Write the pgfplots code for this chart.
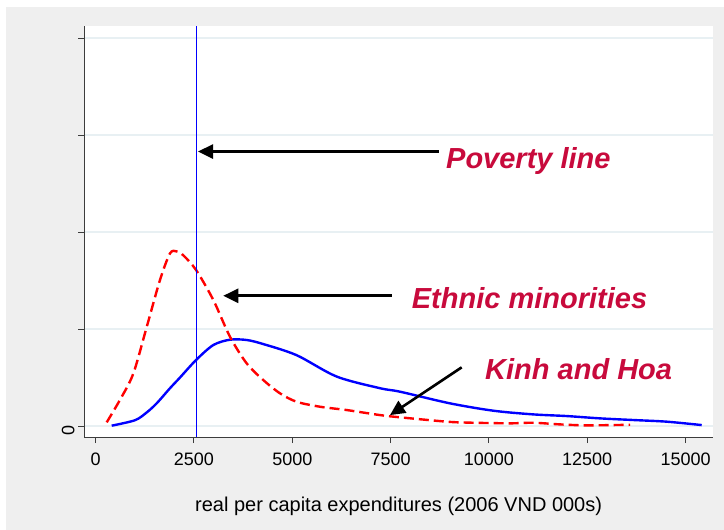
\documentclass[border=0pt]{standalone}
\usepackage{fontspec}
\setmainfont{Liberation Sans}
\usepackage{pgfplots}
\pgfplotsset{compat=1.18}
\usetikzlibrary{arrows.meta}
\definecolor{bg}{RGB}{239,239,239}
\definecolor{gridc}{RGB}{232,240,243}
\definecolor{annot}{RGB}{200,10,60}
\definecolor{axc}{RGB}{60,60,60}
\begin{document}
\begin{tikzpicture}[x=1pt,y=1pt]
\fill[white] (0,0) rectangle (724,-530);
\fill[bg] (6,-7) rectangle (724,-530);
\begin{axis}[
  at={(84pt,-437pt)}, anchor=south west,
  scale only axis, width=629.3pt, height=411pt,
  xmin=-297, xmax=15706, ymin=-0.113, ymax=4.124,
  axis x line*=bottom, axis y line*=left,
  axis line style={line width=1pt, color=axc},
  axis background/.style={fill=white},
  xtick={0,2500,5000,7500,10000,12500,15000},
  scaled x ticks=false,
  xticklabels={0,2500,5000,7500,10000,12500,15000},
  ytick={0,1,2,3,4}, yticklabels={0,,,,},
  tick align=outside, major tick length=6pt,
  tick style={line width=1pt, color=axc},
  ymajorgrids, grid style={gridc, line width=1.2pt},
  xticklabel style={font=\fontsize{18}{20}\selectfont, yshift=-6pt},
  yticklabel style={font=\fontsize{18}{20}\selectfont, rotate=90, anchor=south, xshift=-4pt},
  xlabel={real per capita expenditures (2006 VND 000s)},
  xlabel style={font=\fontsize{20}{22}\selectfont, at={(rel axis cs:0.5,0)}, anchor=center, yshift=-69pt},
  clip=false,
]
% Kinh and Hoa
\addplot[blue, line width=2.4pt, smooth, tension=0.5] coordinates {
(407,0.004) (1000,0.06) (1297,0.14) (1551,0.234) (1890,0.39) (2144,0.50) (2551,0.68)
(2991,0.835) (3416,0.89) (3840,0.887) (4263,0.845) (5112,0.73) (6129,0.51)
(7231,0.39) (7739,0.354) (9010,0.234) (10113,0.158) (11130,0.12) (11978,0.103)
(12826,0.079) (13673,0.062) (14521,0.045) (15411,0.01)};
% Ethnic minorities
\addplot[red, line width=2.4pt, dash pattern=on 10pt off 5pt, smooth, tension=0.5] coordinates {
(280,0.038) (618,0.27) (956,0.54) (1297,1.02) (1635,1.505) (1890,1.78) (2060,1.80)
(2228,1.76) (2551,1.61) (2991,1.30) (3416,0.92) (3840,0.646) (4263,0.474)
(4688,0.337) (5112,0.25) (5705,0.199) (6383,0.165) (7231,0.113) (7739,0.09)
(8927,0.045) (9500,0.035) (10537,0.028) (11130,0.034) (11808,0.017) (12487,0.007)
(13588,0.013)};
% poverty line
\addplot[blue, line width=1.6pt] coordinates {(2560,-0.113) (2560,4.124)};
% annotations
\draw[line width=2.6pt, -{Triangle[length=15pt,width=14pt]}] (axis cs:8730,2.83) -- (axis cs:2602,2.83);
\draw[line width=2.6pt, -{Triangle[length=15pt,width=14pt]}] (axis cs:7527,1.343) -- (axis cs:3245,1.343);
\draw[line width=2.6pt, -{Triangle[length=15pt,width=14pt]}] (axis cs:9307,0.605) -- (axis cs:7484,0.113);
\node[anchor=base west, text=annot, font=\fontsize{29}{32}\selectfont\bfseries\itshape, inner sep=0] at (axis cs:8908,2.65) {Poverty line};
\node[anchor=base west, text=annot, font=\fontsize{29}{32}\selectfont\bfseries\itshape, inner sep=0] at (axis cs:8036,1.213) {Ethnic minorities};
\node[anchor=base west, text=annot, font=\fontsize{29}{32}\selectfont\bfseries\itshape, inner sep=0] at (axis cs:9900,0.481) {Kinh and Hoa};
\end{axis}
\pgfresetboundingbox
\path[use as bounding box] (0,0) rectangle (724,-530);
\end{tikzpicture}
\end{document}
